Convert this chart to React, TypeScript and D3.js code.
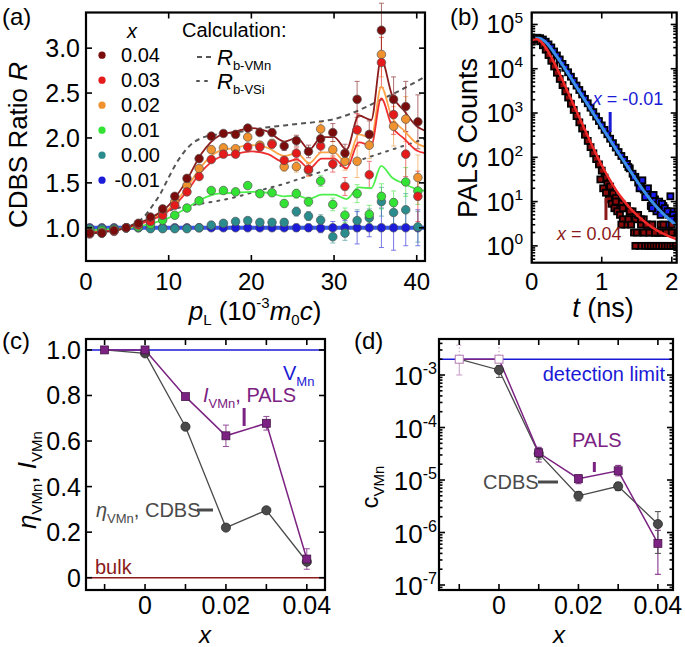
import React from "react";
import * as d3 from "d3";

const FONT = "'Liberation Sans', Arial, Helvetica, sans-serif";

// ---------------- (a) CDBS ratio ----------------
const pL = [0.45, 1.92, 3.39, 4.86, 6.33, 7.8, 9.27, 10.74, 12.21, 13.68, 15.15, 16.62, 18.09, 19.56, 21.03, 22.5, 23.97, 25.44, 26.91, 28.38, 29.85, 31.32, 32.79, 34.26, 35.73, 37.2, 38.67, 40.14];
const R004 = [0.94, 0.94, 0.97, 1.0, 1.05, 1.12, 1.21, 1.35, 1.55, 1.77, 2.02, 2.05, 2.04, 2.11, 2.06, 2.06, 1.91, 1.97, 1.85, 1.99, 2.06, 1.83, 2.43, 2.04, 3.2, 2.43, 2.35, 2.18];
const E004 = [0.01, 0.01, 0.01, 0.01, 0.01, 0.01, 0.01, 0.015, 0.015, 0.015, 0.02, 0.02, 0.02, 0.03, 0.03, 0.04, 0.05, 0.06, 0.07, 0.07, 0.1, 0.1, 0.2, 0.15, 0.3, 0.25, 0.28, 0.3];
const R003 = [0.93, 0.94, 0.96, 1.0, 1.03, 1.07, 1.14, 1.25, 1.4, 1.57, 1.76, 1.82, 1.82, 1.9, 1.9, 1.93, 1.75, 1.83, 1.65, 1.91, 1.71, 1.46, 2.09, 1.59, 2.84, 2.26, 1.82, 1.35];
const E003 = [0.01, 0.01, 0.01, 0.01, 0.01, 0.01, 0.01, 0.015, 0.015, 0.015, 0.02, 0.02, 0.02, 0.03, 0.03, 0.04, 0.05, 0.06, 0.07, 0.07, 0.09, 0.1, 0.18, 0.15, 0.28, 0.22, 0.25, 0.28];
const R002 = [0.95, 0.95, 0.97, 1.0, 1.04, 1.1, 1.17, 1.29, 1.47, 1.66, 1.87, 1.89, 1.88, 2.01, 1.92, 1.94, 1.68, 1.68, 1.64, 2.1, 1.87, 1.74, 1.74, 1.92, 2.93, 2.13, 2.21, 1.56];
const E002 = [0.01, 0.01, 0.01, 0.01, 0.01, 0.01, 0.01, 0.015, 0.015, 0.015, 0.02, 0.02, 0.02, 0.03, 0.03, 0.04, 0.05, 0.06, 0.07, 0.07, 0.09, 0.1, 0.18, 0.15, 0.25, 0.22, 0.25, 0.25];
const R001 = [0.97, 0.97, 0.98, 1.0, 1.01, 1.04, 1.085, 1.14, 1.22, 1.3, 1.415, 1.415, 1.4, 1.47, 1.38, 1.39, 1.27, 1.38, 1.29, 1.52, 1.26, 1.14, 1.38, 1.15, 1.35, 1.28, 1.51, 1.41];
const E001 = [0.01, 0.01, 0.01, 0.01, 0.01, 0.01, 0.01, 0.01, 0.01, 0.015, 0.015, 0.015, 0.02, 0.02, 0.03, 0.03, 0.04, 0.05, 0.05, 0.06, 0.07, 0.08, 0.1, 0.1, 0.14, 0.13, 0.16, 0.15];
const R000 = [0.99, 0.99, 0.99, 1.0, 1.0, 0.99, 0.99, 0.99, 0.99, 1.0, 1.03, 1.05, 1.07, 1.08, 1.06, 1.06, 1.06, 1.18, 1.13, 1.085, 0.9, 0.94, 1.08, 1.11, 1.29, 1.17, 1.2, 1.01];
const E000 = [0.01, 0.01, 0.01, 0.01, 0.01, 0.01, 0.01, 0.01, 0.01, 0.01, 0.015, 0.015, 0.02, 0.02, 0.03, 0.03, 0.04, 0.05, 0.05, 0.06, 0.07, 0.08, 0.12, 0.1, 0.16, 0.15, 0.18, 0.17];
const Rm001 = [1.0, 1.0, 1.0, 1.0, 1.0, 1.0, 1.0, 1.0, 1.0, 1.0, 1.0, 1.0, 1.0, 1.0, 1.0, 1.0, 1.0, 1.0, 1.0, 0.995, 1.0, 1.0, 1.0, 1.0, 1.0, 1.0, 1.0, 1.0];
const Em001 = [0.005, 0.005, 0.005, 0.005, 0.005, 0.005, 0.005, 0.005, 0.005, 0.005, 0.01, 0.01, 0.01, 0.015, 0.02, 0.02, 0.03, 0.04, 0.04, 0.05, 0.07, 0.08, 0.18, 0.1, 0.22, 0.25, 0.2, 0.2];

const fitPL = [0, 2, 4, 6, 8, 10, 12, 14, 16, 18, 20, 22, 24, 25.5, 27, 28.5, 30, 31.5, 33, 34.5, 35.7, 37, 38.5, 40, 41];
const FIT004 = [0.93, 0.95, 0.98, 1.04, 1.12, 1.25, 1.5, 1.83, 2.02, 2.07, 2.11, 2.07, 1.96, 2.0, 1.87, 2.01, 2.01, 1.87, 2.25, 2.2, 2.88, 2.48, 2.3, 2.13, 2.08];
const FIT003 = [0.94, 0.96, 0.98, 1.03, 1.09, 1.19, 1.38, 1.63, 1.78, 1.82, 1.85, 1.82, 1.73, 1.76, 1.66, 1.77, 1.77, 1.66, 1.95, 1.92, 2.44, 2.13, 1.99, 1.86, 1.83];
const FIT002 = [0.94, 0.96, 0.98, 1.03, 1.1, 1.21, 1.42, 1.69, 1.85, 1.89, 1.92, 1.89, 1.8, 1.83, 1.72, 1.84, 1.84, 1.72, 2.04, 2.0, 2.57, 2.23, 2.08, 1.94, 1.9];
const FIT001 = [0.97, 0.98, 0.99, 1.01, 1.05, 1.11, 1.21, 1.32, 1.38, 1.39, 1.4, 1.39, 1.35, 1.36, 1.32, 1.37, 1.37, 1.32, 1.45, 1.44, 1.69, 1.56, 1.49, 1.43, 1.41];
const FITm001 = [1.0, 1.0, 1.0, 1.0, 1.0, 1.0, 1.0, 1.0, 1.0, 1.0, 1.0, 1.0, 1.0, 1.0, 1.0, 1.0, 1.0, 1.0, 1.0, 1.0, 1.0, 1.0, 1.0, 1.0, 1.0];

const calcPL = [0, 2, 4, 6, 7, 8, 9, 10, 11, 12, 13, 14, 16, 18, 20, 22, 24, 26, 28, 30, 32, 34, 36, 38, 40, 41];
const RbVMn = [0.97, 0.97, 0.99, 1.05, 1.12, 1.24, 1.38, 1.56, 1.73, 1.86, 1.95, 2.0, 2.04, 2.06, 2.09, 2.12, 2.14, 2.16, 2.18, 2.21, 2.27, 2.35, 2.44, 2.53, 2.63, 2.68];
const calcPL2 = [0, 2, 4, 6, 8, 10, 12, 14, 16, 18, 20, 22, 24, 26, 28, 30, 32, 34, 36, 38, 40, 41];
const RbVSi = [0.96, 0.96, 0.98, 1.04, 1.12, 1.19, 1.24, 1.27, 1.3, 1.34, 1.39, 1.44, 1.49, 1.55, 1.61, 1.67, 1.72, 1.78, 1.84, 1.9, 1.96, 1.99];

const legendX = ["0.04", "0.03", "0.02", "0.01", "0.00", "-0.01"];
const xTicksA = [0, 10, 20, 30, 40];
const yTicksA = [1.0, 1.5, 2.0, 2.5, 3.0];

// ---------------- (b) PALS spectra ----------------
const tData = [0, 0.04, 0.08, 0.12, 0.16, 0.2, 0.24, 0.28, 0.32, 0.36, 0.4, 0.44, 0.48, 0.52, 0.56, 0.6, 0.64, 0.68, 0.72, 0.76, 0.8, 0.84, 0.88, 0.92, 0.96, 1.0, 1.04, 1.08, 1.12, 1.16, 1.2, 1.24, 1.28, 1.32, 1.36, 1.4, 1.44, 1.48, 1.52, 1.56, 1.6, 1.64, 1.68, 1.72, 1.76, 1.8, 1.84, 1.88, 1.92, 1.96, 2.0, 2.04];
const logCountsM001 = [4.63, 4.69, 4.7, 4.69, 4.66, 4.61, 4.55, 4.48, 4.39, 4.3, 4.21, 4.11, 4.02, 3.92, 3.82, 3.72, 3.62, 3.52, 3.42, 3.32, 3.22, 3.12, 3.02, 2.92, 2.82, 2.72, 2.62, 2.52, 2.42, 2.32, 2.22, 2.12, 2.03, 1.94, 1.85, 1.75, 1.63, 1.56, 1.43, 1.39, 1.27, 1.2, 1.1, 1.02, 1.05, 0.92, 0.85, 0.9, 0.78, 0.7, 0.78, 0.6];
const logCountsX004 = [4.61, 4.67, 4.67, 4.62, 4.53, 4.43, 4.31, 4.18, 4.05, 3.91, 3.77, 3.63, 3.49, 3.35, 3.21, 3.07, 2.93, 2.79, 2.65, 2.51, 2.37, 2.23, 2.09, 1.96, 1.84, 1.7, 1.54, 1.4, 1.34, 1.18, 1.08, 1.0, 0.95, 0.85, 0.9, 0.7, 0.78, 0.6, 0.7, 0.48, 0.6, 0.48, 0.3, 0.48, 0.3, 0.3, 0.48, 0.3, 0.3, 0.3, 0.48, 0.3];
const tailM001T = [1.38, 1.46, 1.54, 1.58, 1.62, 1.66, 1.7, 1.74, 1.78, 1.82, 1.86, 1.9, 1.94, 1.98, 2.02, 2.06, 1.96, 2.0, 1.84, 1.72];
const tailM001Log = [1.78, 1.55, 1.3, 1.48, 1.1, 1.3, 0.9, 1.15, 0.78, 1.0, 0.95, 0.85, 0.78, 1.12, 0.7, 0.6, 0.48, 0.6, 0.7, 0.85];
const tailX004T = [0.98, 1.02, 1.06, 1.1, 1.14, 1.18, 1.22, 1.26, 1.3, 1.34, 1.38, 1.42, 1.46, 1.5, 1.54, 1.58, 1.62, 1.66, 1.7, 1.74, 1.78, 1.82, 1.86, 1.9, 1.94, 1.98, 2.02, 2.06, 1.48, 1.3, 1.2, 1.28, 1.4, 1.56, 1.64, 1.72, 1.8, 1.88, 1.96, 2.04, 1.6, 1.68, 1.76, 1.84, 1.92, 2.0];
const tailX004Log = [1.5, 1.3, 1.2, 1.05, 0.95, 0.85, 0.78, 0.7, 0.6, 0.48, 0.6, 0.48, 0.3, 0.3, 0, 0.3, 0, 0, 0, 0, 0, 0, 0, 0, 0, 0, 0, 0, 0, 0.85, 1.0, 0.48, 0.78, 0.6, 0.48, 0.48, 0.3, 0.48, 0.3, 0.3, 0.3, 0.3, 0.3, 0.3, 0.3, 0.3];
const tFit = [0, 0.05, 0.1, 0.2, 0.3, 0.4, 0.5, 0.6, 0.7, 0.8, 0.9, 1.0, 1.1, 1.2, 1.3, 1.4, 1.5, 1.6, 1.7, 1.8, 1.9, 2.0, 2.07];
const fitLogM001 = [4.64, 4.69, 4.69, 4.6, 4.41, 4.18, 3.94, 3.69, 3.44, 3.19, 2.94, 2.69, 2.44, 2.19, 1.95, 1.71, 1.47, 1.24, 1.03, 0.85, 0.69, 0.55, 0.46];
const fitLogX004 = [4.63, 4.67, 4.65, 4.48, 4.2, 3.88, 3.53, 3.18, 2.83, 2.48, 2.14, 1.82, 1.53, 1.27, 1.05, 0.86, 0.7, 0.56, 0.44, 0.34, 0.26, 0.19, 0.15];
const tTicksB = [0, 1, 2];
const decadesB = [0, 1, 2, 3, 4, 5];

// ---------------- (c) fractions ----------------
const xConc = [-0.01, 0, 0.01, 0.02, 0.03, 0.04];
const I_VMn = [1.0, 1.0, 0.795, 0.623, 0.678, 0.082];
const I_VMnErr = [0, 0, 0.008, 0.047, 0.03, 0.045];
const eta_VMn = [1.0, 0.985, 0.663, 0.22, 0.296, 0.07];
const xTicksC = [-0.01, 0, 0.01, 0.02, 0.03, 0.04];
const xLabelsC = [0, 0.02, 0.04];
const yTicksC = [0, 0.2, 0.4, 0.6, 0.8, 1.0];

// ---------------- (d) concentrations ----------------
const cPALS = [2.0e-3, 2.0e-3, 3.3e-5, 1.06e-5, 1.5e-5, 6.2e-7];
const cPALSLo = [1.0e-3, 2.0e-3, 2.2e-5, 8.5e-6, 1.2e-5, 1.6e-7];
const cPALSHi = [3.7e-3, 3.7e-3, 4.2e-5, 1.25e-5, 1.9e-5, 1.1e-6];
const cCDBS = [2.0e-3, 1.25e-3, 3.2e-5, 5.0e-6, 7.6e-6, 1.45e-6];
const cCDBSLo = [2.0e-3, 9.0e-4, 2.5e-5, 4.0e-6, 6.3e-6, 4.0e-7];
const cCDBSHi = [2.0e-3, 1.5e-3, 4.0e-5, 6.0e-6, 9.0e-6, 2.5e-6];
const detectionLimit = 2.0e-3;
const decadesD = [-7, -6, -5, -4, -3];

// ---------------- styles ----------------
const seriesColor = ["#7a0c0c", "#e51a1a", "#f0932f", "#33e333", "#2a8c8c", "#1b1bd9"];
const fitColor = ["#8c1c1c", "#f03030", "#ffa448", "#4cf04c", "#3355ee"];
const PURPLE = "#7b2282";
const GRAY = "#4a4a4a";
const BLUE = "#1a1ad6";
const DARKRED = "#8b1a1a";

function Ticks({ xs, ys, xs2, ys2, xScale, yScale, len, len2 }: any) {
  const [x0, x1] = xScale.range();
  const [y0, y1] = yScale.range();
  const mk = (vals: number[], l: number, key: string) => (
    <g key={key}>
      {vals.map((v, i) => (
        <g key={i}>
          <line x1={xScale(v)} x2={xScale(v)} y1={y0} y2={y0 - l} />
          <line x1={xScale(v)} x2={xScale(v)} y1={y1} y2={y1 + l} />
        </g>
      ))}
    </g>
  );
  const mky = (vals: number[], l: number, key: string) => (
    <g key={key}>
      {vals.map((v, i) => (
        <g key={i}>
          <line x1={x0} x2={x0 + l} y1={yScale(v)} y2={yScale(v)} />
          <line x1={x1} x2={x1 - l} y1={yScale(v)} y2={yScale(v)} />
        </g>
      ))}
    </g>
  );
  return (
    <g stroke="#000" strokeWidth={1.6}>
      {mk(xs, len, "a")}
      {mky(ys, len, "b")}
      {xs2 ? mk(xs2, len2, "c") : null}
      {ys2 ? mky(ys2, len2, "d") : null}
    </g>
  );
}

function Frame({ xScale, yScale }: any) {
  const [x0, x1] = xScale.range();
  const [y0, y1] = yScale.range();
  return <rect x={x0} y={y1} width={x1 - x0} height={y0 - y1} fill="none" stroke="#000" strokeWidth={2.2} />;
}

function minorLog(decades: number[], lo: number, hi: number) {
  const out: number[] = [];
  decades.concat([decades[0] - 1]).forEach((d) => {
    for (let m = 2; m <= 9; m++) {
      const v = m * Math.pow(10, d);
      if (v > lo && v < hi) out.push(v);
    }
  });
  return out;
}

export default function App() {
  const xA = d3.scaleLinear().domain([0, 41]).range([86, 425]);
  const yA = d3.scaleLinear().domain([0.63, 3.397]).range([261, 12.5]);
  const xB = d3.scaleLinear().domain([0, 2.07]).range([531.7, 676.7]);
  const yB = d3.scaleLog().domain([Math.pow(10, -0.38), Math.pow(10, 5.27)]).range([262.7, 12.5]);
  const xC = d3.scaleLinear().domain([-0.0146, 0.0445]).range([86, 325]);
  const yC = d3.scaleLinear().domain([-0.054, 1.048]).range([590, 339]);
  const xD = d3.scaleLinear().domain([-0.0151, 0.0438]).range([439, 673]);
  const yD = d3.scaleLog().domain([Math.pow(10, -7.095), Math.pow(10, -2.314)]).range([590, 339]);

  const seriesA = [
    { v: R004, e: E004 },
    { v: R003, e: E003 },
    { v: R002, e: E002 },
    { v: R001, e: E001 },
    { v: R000, e: E000 },
    { v: Rm001, e: Em001 },
  ];
  const fitsA = [FIT004, FIT003, FIT002, FIT001, FITm001];

  const fitPath = (ys: number[]) =>
    d3
      .line<number>()
      .curve(d3.curveMonotoneX)
      .x((_, i) => xA(fitPL[i]))
      .y((d) => yA(d))(ys) || "";
  const calcPath = (xs: number[], ys: number[]) =>
    d3
      .line<number>()
      .curve(d3.curveMonotoneX)
      .x((_, i) => xA(xs[i]))
      .y((d) => yA(d))(ys) || "";

  const drawOrder = [5, 4, 3, 2, 1, 0];

  const bPath = (logs: number[]) =>
    d3
      .line<number>()
      .curve(d3.curveMonotoneX)
      .x((_, i) => xB(tFit[i]))
      .y((d) => yB(Math.pow(10, d)))(logs) || "";

  const sq = 6;

  const cLine = (ys: number[], xs: number[]) =>
    d3
      .line<number>()
      .x((_, i) => xC(xs[i]))
      .y((d) => yC(d))(ys) || "";
  const dLine = (ys: number[], xs: number[]) =>
    d3
      .line<number>()
      .x((_, i) => xD(xs[i]))
      .y((d) => yD(d))(ys) || "";

  const minorB = minorLog(decadesB, yB.domain()[0], yB.domain()[1]);
  const minorD = minorLog(decadesD, yD.domain()[0], yD.domain()[1]);

  const supText = (base: string, exp: string, x: number, y: number, size: number) => (
    <text x={x} y={y} textAnchor="end" fontSize={size} fontFamily={FONT}>
      {base}
      <tspan fontSize={size * 0.62} dy={-size * 0.42}>
        {exp}
      </tspan>
    </text>
  );

  const square = (t: number, lg: number, fill: string, key: string) => (
    <rect key={key} x={xB(t) - sq / 2} y={yB(Math.pow(10, lg)) - sq / 2} width={sq} height={sq} fill={fill} />
  );

  return (
    <svg
      width={685}
      height={647}
      viewBox="0 0 685 647"
      style={{ position: "absolute", left: 0, top: 0, background: "#fff" }}
      fontFamily={FONT}
    >
      <rect x={0} y={0} width={685} height={647} fill="#fff" />

      {/* ================= (a) ================= */}
      <text x={2} y={25} fontSize={24}>(a)</text>
      <path d={calcPath(calcPL, RbVMn)} fill="none" stroke="#555" strokeWidth={2} strokeDasharray="5,4" />
      <path d={calcPath(calcPL2, RbVSi)} fill="none" stroke="#555" strokeWidth={2} strokeDasharray="2,6" strokeLinecap="round" />
      {drawOrder.map((s) => (
        <g key={"e" + s} stroke={seriesColor[s]} strokeWidth={0.9} opacity={0.65}>
          {seriesA[s].v.map((v, i) => {
            const e = seriesA[s].e[i];
            if (e < 0.02) return null;
            const x = xA(pL[i]);
            return (
              <g key={i}>
                <line x1={x} x2={x} y1={yA(v - e)} y2={yA(v + e)} />
                <line x1={x - 2.5} x2={x + 2.5} y1={yA(v - e)} y2={yA(v - e)} />
                <line x1={x - 2.5} x2={x + 2.5} y1={yA(v + e)} y2={yA(v + e)} />
              </g>
            );
          })}
        </g>
      ))}
      <path d={fitPath(FITm001)} fill="none" stroke={fitColor[4]} strokeWidth={4} />
      {[3, 2, 1, 0].map((s) => (
        <path key={"f" + s} d={fitPath(fitsA[s])} fill="none" stroke={fitColor[s]} strokeWidth={1.8} />
      ))}
      {drawOrder.map((s) => (
        <g key={"p" + s}>
          {seriesA[s].v.map((v, i) => (
            <circle key={i} cx={xA(pL[i])} cy={yA(v)} r={4.3} fill={seriesColor[s]} stroke="#555" strokeWidth={0.7} />
          ))}
        </g>
      ))}
      <text x={132} y={38} fontSize={20} fontStyle="italic" textAnchor="middle">x</text>
      {legendX.map((lab, i) => (
        <g key={lab}>
          <circle cx={102} cy={yA(3.0) + 7 + i * 25} r={3.6} fill={seriesColor[i]} />
          <text x={160} y={yA(3.0) + 14 + i * 25} fontSize={20} textAnchor="end">{lab}</text>
        </g>
      ))}
      <text x={182} y={37} fontSize={20}>Calculation:</text>
      <line x1={197} x2={211} y1={57} y2={57} stroke="#555" strokeWidth={2} strokeDasharray="5,4" />
      <text x={217} y={65} fontSize={22}>
        <tspan fontStyle="italic">R</tspan>
        <tspan fontSize={13} dy={5}>b-VMn</tspan>
      </text>
      <line x1={197} x2={211} y1={81} y2={81} stroke="#555" strokeWidth={2} strokeDasharray="2,6" strokeLinecap="round" />
      <text x={217} y={89} fontSize={22}>
        <tspan fontStyle="italic">R</tspan>
        <tspan fontSize={13} dy={5}>b-VSi</tspan>
      </text>
      <Ticks xs={xTicksA} ys={yTicksA} xScale={xA} yScale={yA} len={6} />
      <Frame xScale={xA} yScale={yA} />
      {yTicksA.map((v) => (
        <text key={v} x={80} y={yA(v) + 9} fontSize={25} textAnchor="end">{v.toFixed(1)}</text>
      ))}
      {xTicksA.map((v) => (
        <text key={v} x={xA(v)} y={290} fontSize={24} textAnchor="middle">{v}</text>
      ))}
      <text transform={`translate(27,${145}) rotate(-90)`} fontSize={26} textAnchor="middle">
        CDBS Ratio <tspan fontStyle="italic">R</tspan>
      </text>
      <text x={255} y={320} fontSize={26} textAnchor="middle">
        <tspan fontStyle="italic">p</tspan>
        <tspan fontSize={15} dy={5}>L</tspan>
        <tspan dy={-5}> (10</tspan>
        <tspan fontSize={15} dy={-12}>-3</tspan>
        <tspan dy={12} fontStyle="italic">m</tspan>
        <tspan fontSize={15} dy={5}>0</tspan>
        <tspan dy={-5} fontStyle="italic">c</tspan>
        <tspan>)</tspan>
      </text>

      {/* ================= (b) ================= */}
      <text x={450} y={25} fontSize={24}>(b)</text>
      <clipPath id="clipB">
        <rect x={531.7} y={12.5} width={145} height={250.2} />
      </clipPath>
      <g clipPath="url(#clipB)">
        <g stroke="#000" strokeWidth={1.8}>
          {logCountsM001.map((v, i) => square(tData[i], v, "#1a1aee", "bm" + i))}
          {tailM001Log.map((v, i) => square(tailM001T[i], v, "#1a1aee", "bt" + i))}
          {logCountsX004.map((v, i) => square(tData[i], v, "#8b0a0a", "rm" + i))}
          {tailX004Log.map((v, i) => square(tailX004T[i], v, "#8b0a0a", "rt" + i))}
        </g>
        <path d={bPath(fitLogM001)} fill="none" stroke="#3a8fe8" strokeWidth={3} />
        <path d={bPath(fitLogX004)} fill="none" stroke="#f02828" strokeWidth={2.5} />
      </g>
      <text x={xB(0.87)} y={105} fontSize={18} fill={BLUE}>
        <tspan fontStyle="italic">x</tspan> = -0.01
      </text>
      <line x1={xB(1.12)} x2={xB(1.12)} y1={112} y2={132} stroke={BLUE} strokeWidth={3} />
      <text x={xB(0.36)} y={240} fontSize={18} fill={DARKRED}>
        <tspan fontStyle="italic">x</tspan> = 0.04
      </text>
      <line x1={xB(1.06)} x2={xB(1.06)} y1={198} y2={220} stroke={DARKRED} strokeWidth={3} />
      <Ticks
        xs={tTicksB}
        ys={decadesB.map((d) => Math.pow(10, d))}
        ys2={minorB}
        xScale={xB}
        yScale={yB}
        len={6}
        len2={3.5}
      />
      <Frame xScale={xB} yScale={yB} />
      {decadesB.map((d) => (
        <g key={d}>{supText("10", String(d), 523, yB(Math.pow(10, d)) + 9, 25)}</g>
      ))}
      {tTicksB.map((v) => (
        <text key={v} x={xB(v)} y={290} fontSize={24} textAnchor="middle">{v}</text>
      ))}
      <text transform={`translate(477,${138}) rotate(-90)`} fontSize={27} textAnchor="middle">
        PALS Counts
      </text>
      <text x={603} y={317} fontSize={27} textAnchor="middle">
        <tspan fontStyle="italic">t</tspan> (ns)
      </text>

      {/* ================= (c) ================= */}
      <text x={2} y={349} fontSize={24}>(c)</text>
      <line x1={xC.range()[0]} x2={xC.range()[1]} y1={yC(1)} y2={yC(1)} stroke={BLUE} strokeWidth={1.5} />
      <line x1={xC.range()[0]} x2={xC.range()[1]} y1={yC(0)} y2={yC(0)} stroke={DARKRED} strokeWidth={1.5} />
      <path d={cLine(eta_VMn, xConc)} fill="none" stroke={GRAY} strokeWidth={1.3} />
      <path d={cLine(I_VMn, xConc)} fill="none" stroke={PURPLE} strokeWidth={1.5} />
      <g stroke={PURPLE} strokeWidth={1} opacity={0.8}>
        {I_VMn.map((v, i) =>
          I_VMnErr[i] > 0.01 ? (
            <g key={i}>
              <line x1={xC(xConc[i])} x2={xC(xConc[i])} y1={yC(v - I_VMnErr[i])} y2={yC(v + I_VMnErr[i])} />
              <line x1={xC(xConc[i]) - 3} x2={xC(xConc[i]) + 3} y1={yC(v - I_VMnErr[i])} y2={yC(v - I_VMnErr[i])} />
              <line x1={xC(xConc[i]) - 3} x2={xC(xConc[i]) + 3} y1={yC(v + I_VMnErr[i])} y2={yC(v + I_VMnErr[i])} />
            </g>
          ) : null
        )}
      </g>
      {eta_VMn.map((v, i) =>
        i > 0 ? <circle key={i} cx={xC(xConc[i])} cy={yC(v)} r={4.6} fill={GRAY} stroke="#222" strokeWidth={0.7} /> : null
      )}
      {I_VMn.map((v, i) => (
        <rect key={i} x={xC(xConc[i]) - 4} y={yC(v) - 4} width={8} height={8} fill={PURPLE} stroke="#3d0f40" strokeWidth={0.7} />
      ))}
      <text x={283} y={380} fontSize={20} fill={BLUE}>
        V<tspan fontSize={13} dy={6}>Mn</tspan>
      </text>
      <text x={203} y={402} fontSize={20} fill={PURPLE}>
        <tspan fontStyle="italic">I</tspan>
        <tspan fontSize={13} dy={6}>VMn</tspan>
        <tspan dy={-6}>, PALS</tspan>
      </text>
      <line x1={xC(0.0245)} x2={xC(0.0245)} y1={408} y2={426} stroke={PURPLE} strokeWidth={3} />
      <text x={96} y={517} fontSize={20} fill={GRAY}>
        <tspan fontStyle="italic">η</tspan>
        <tspan fontSize={13} dy={6}>VMn</tspan>
        <tspan dy={-6}>, CDBS</tspan>
      </text>
      <line x1={197} x2={213} y1={510} y2={510} stroke={GRAY} strokeWidth={3} />
      <text x={95} y={574} fontSize={20} fill={DARKRED}>bulk</text>
      <Ticks xs={xTicksC} ys={yTicksC} xScale={xC} yScale={yC} len={6} />
      <Frame xScale={xC} yScale={yC} />
      {yTicksC.map((v) => (
        <text key={v} x={81} y={yC(v) + 9} fontSize={25} textAnchor="end">{v === 0 ? "0" : v.toFixed(1)}</text>
      ))}
      {xLabelsC.map((v) => (
        <text key={v} x={xC(v)} y={614} fontSize={25} textAnchor="middle">{v === 0 ? "0" : v.toFixed(2)}</text>
      ))}
      <text x={205} y={643} fontSize={24} fontStyle="italic" textAnchor="middle">x</text>
      <text transform={`translate(36,${480}) rotate(-90)`} fontSize={26} textAnchor="middle">
        <tspan fontStyle="italic">η</tspan>
        <tspan fontSize={15} dy={6}>VMn</tspan>
        <tspan dy={-6}>, </tspan>
        <tspan fontStyle="italic">I</tspan>
        <tspan fontSize={15} dy={6}>VMn</tspan>
      </text>

      {/* ================= (d) ================= */}
      <text x={354} y={349} fontSize={24}>(d)</text>
      <line x1={xD.range()[0]} x2={xD.range()[1]} y1={yD(detectionLimit)} y2={yD(detectionLimit)} stroke={BLUE} strokeWidth={1.5} />
      <g strokeWidth={1}>
        {cPALS.map((v, i) => {
          const x = xD(xConc[i]);
          const open = i < 2;
          const col = open ? "#c59ac5" : PURPLE;
          return (
            <g key={"pe" + i} stroke={col}>
              {cPALSHi[i] > v ? (
                <g>
                  <line x1={x} x2={x} y1={yD(v)} y2={yD(cPALSHi[i])} strokeDasharray={open ? "1.5,2" : undefined} />
                  {i === 0 || !open ? (
                    <line x1={x - 3} x2={x + 3} y1={yD(cPALSHi[i])} y2={yD(cPALSHi[i])} strokeDasharray={open ? "1.5,2" : undefined} />
                  ) : null}
                </g>
              ) : null}
              {cPALSLo[i] < v ? (
                <g>
                  <line x1={x} x2={x} y1={yD(v)} y2={yD(cPALSLo[i])} />
                  <line x1={x - 3} x2={x + 3} y1={yD(cPALSLo[i])} y2={yD(cPALSLo[i])} />
                </g>
              ) : null}
            </g>
          );
        })}
        {cCDBS.map((v, i) =>
          i > 0 ? (
            <g key={"ce" + i} stroke={GRAY}>
              <line x1={xD(xConc[i])} x2={xD(xConc[i])} y1={yD(cCDBSLo[i])} y2={yD(cCDBSHi[i])} />
              <line x1={xD(xConc[i]) - 3} x2={xD(xConc[i]) + 3} y1={yD(cCDBSLo[i])} y2={yD(cCDBSLo[i])} />
              <line x1={xD(xConc[i]) - 3} x2={xD(xConc[i]) + 3} y1={yD(cCDBSHi[i])} y2={yD(cCDBSHi[i])} />
            </g>
          ) : null
        )}
      </g>
      <path d={dLine(cCDBS, xConc)} fill="none" stroke={GRAY} strokeWidth={1.3} />
      <path d={dLine(cPALS, xConc)} fill="none" stroke={PURPLE} strokeWidth={1.5} />
      {cCDBS.map((v, i) =>
        i > 0 ? <circle key={i} cx={xD(xConc[i])} cy={yD(v)} r={4.6} fill={GRAY} stroke="#222" strokeWidth={0.7} /> : null
      )}
      {cPALS.map((v, i) =>
        i < 2 ? (
          <rect key={i} x={xD(xConc[i]) - 4} y={yD(v) - 4} width={8} height={8} fill="#fff" stroke="#b07ab0" strokeWidth={1} />
        ) : (
          <rect key={i} x={xD(xConc[i]) - 4} y={yD(v) - 4} width={8} height={8} fill={PURPLE} stroke="#3d0f40" strokeWidth={0.7} />
        )
      )}
      <text x={665} y={381} fontSize={20} fill={BLUE} textAnchor="end">detection limit</text>
      <text x={572} y={447} fontSize={20} fill={PURPLE}>PALS</text>
      <line x1={xD(0.024)} x2={xD(0.024)} y1={462} y2={472} stroke={PURPLE} strokeWidth={3} />
      <text x={483} y={489} fontSize={20} fill={GRAY}>CDBS</text>
      <line x1={538} x2={558} y1={482} y2={482} stroke={GRAY} strokeWidth={3} />
      <Ticks
        xs={xTicksC}
        ys={decadesD.map((d) => Math.pow(10, d))}
        ys2={minorD}
        xScale={xD}
        yScale={yD}
        len={6}
        len2={3.5}
      />
      <Frame xScale={xD} yScale={yD} />
      {decadesD.map((d) => (
        <g key={d}>{supText("10", String(d), 437, yD(Math.pow(10, d)) + 10, 26)}</g>
      ))}
      {xLabelsC.map((v) => (
        <text key={v} x={xD(v)} y={614} fontSize={25} textAnchor="middle">{v === 0 ? "0" : v.toFixed(2)}</text>
      ))}
      <text x={559} y={643} fontSize={24} fontStyle="italic" textAnchor="middle">x</text>
      <text transform={`translate(378,${487}) rotate(-90)`} fontSize={24} textAnchor="middle">
        c<tspan fontSize={15} dy={6}>VMn</tspan>
      </text>
    </svg>
  );
}
